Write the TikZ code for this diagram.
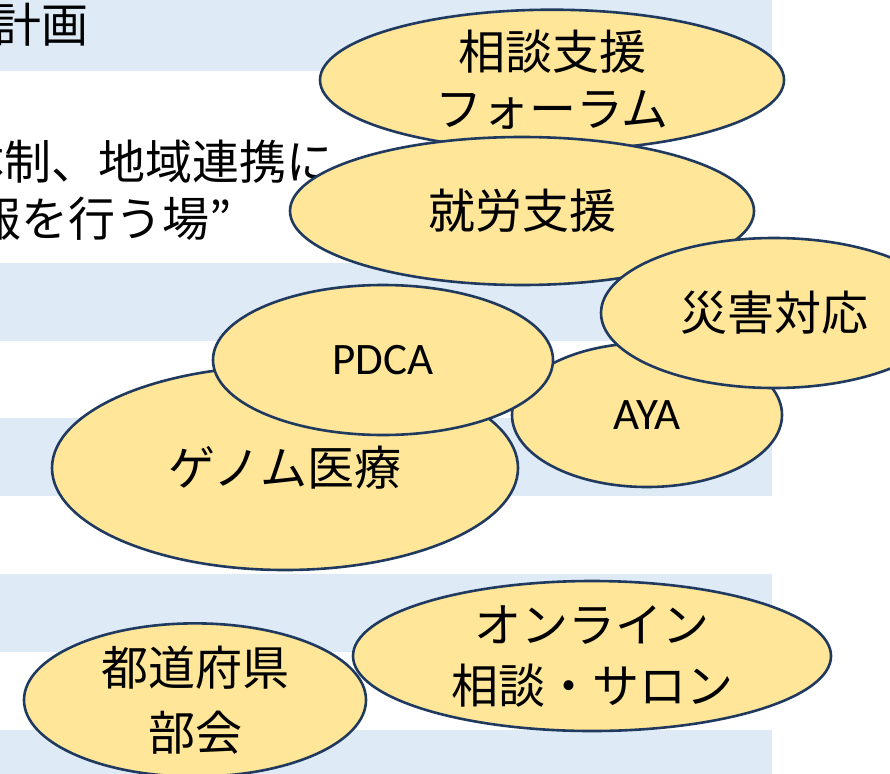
\documentclass[tikz,border=0pt]{standalone}
\usepackage{fontspec}
\setmainfont{Carlito}
\newfontfamily\jp{Noto Sans CJK JP}
\usetikzlibrary{shapes.geometric}
\definecolor{band}{RGB}{222,235,247}
\definecolor{bubble}{RGB}{255,230,153}
\definecolor{rim}{RGB}{31,57,95}
\tikzset{
  bubblenode/.style={ellipse, draw=rim, fill=bubble, line width=2.6pt, inner sep=0pt,
    align=center, text=black, font=\jp\fontsize{47}{57}\selectfont},
  latinbubble/.style={bubblenode, font=\fontsize{45}{54}\selectfont},
  bandrect/.style={fill=band, draw=none},
  jptext/.style={font=\jp\fontsize{47}{57}\selectfont, inner sep=0pt, text=black},
}
\begin{document}
\begin{tikzpicture}[x=1pt,y=-1pt]
\useasboundingbox (0,0) rectangle (890,773);
\clip (0,0) rectangle (890,773);
% background bands
\fill[bandrect] (0,-2) rectangle (772,71);
\fill[bandrect] (0,263) rectangle (772,341);
\fill[bandrect] (0,418) rectangle (772,496);
\fill[bandrect] (0,574) rectangle (772,652);
\fill[bandrect] (0,730) rectangle (772,775);
% partial background text
\node[jptext, anchor=base west] (plan) at (-6,43) {計画};
\node[jptext, anchor=base west] (lineA) at (-43,179) {体制、地域連携に};
\node[jptext, anchor=base west] (lineB) at (-26,236) {報を行う場”};
% bubbles
\node[bubblenode, minimum width=464pt, minimum height=140pt] (soudan) at (552,80) {相談支援\\フォーラム};
\node[bubblenode, minimum width=464pt, minimum height=148pt] (shurou) at (522,211) {就労支援};
\node[bubblenode, minimum width=466pt, minimum height=204pt] (genome) at (285,468) {ゲノム医療};
\node[latinbubble, minimum width=270pt, minimum height=144pt] (aya) at (647,415) {AYA};
\node[latinbubble, minimum width=340pt, minimum height=150pt] (pdca) at (383,360) {PDCA};
\node[bubblenode, minimum width=346pt, minimum height=150pt] (saigai) at (774,313) {災害対応};
\node[bubblenode, minimum width=342pt, minimum height=146pt,
      font=\jp\fontsize{47}{65}\selectfont] (todofuken) at (195,700) {都道府県\\部会};
\node[bubblenode, minimum width=478pt, minimum height=150pt,
      font=\jp\fontsize{47}{61}\selectfont] (online) at (592,656) {オンライン\\相談・サロン};
\end{tikzpicture}
\end{document}
